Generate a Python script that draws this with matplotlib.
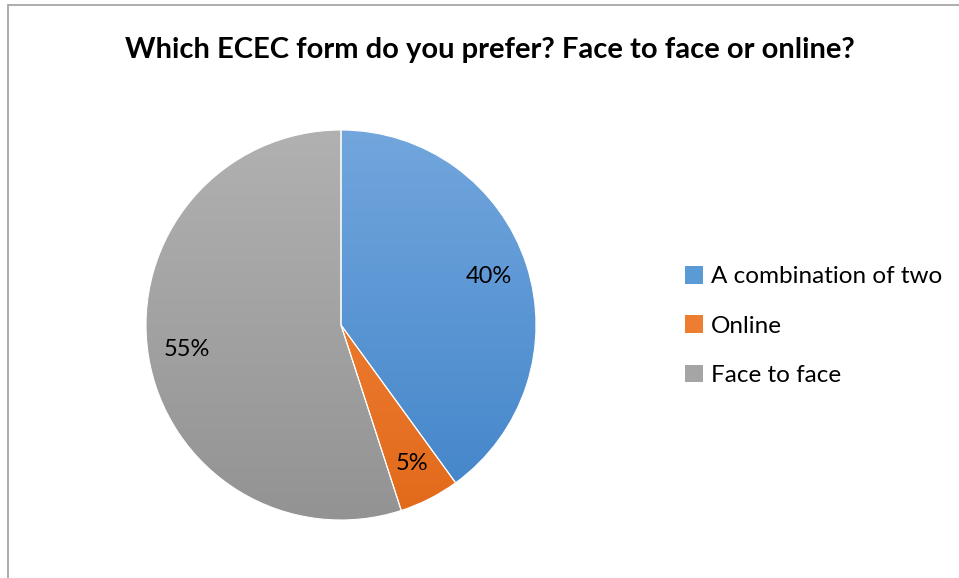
import numpy as np
import matplotlib
matplotlib.use("Agg")
import matplotlib.pyplot as plt
from matplotlib.colors import LinearSegmentedColormap
from matplotlib.patches import Patch, Rectangle

plt.rcParams['font.family'] = ['Lato', 'DejaVu Sans']

TITLE = "Which ECEC form do you prefer? Face to face or online?"
labels = ["A combination of two", "Online", "Face to face"]
shares = [40, 5, 55]
# top / bottom shade of each slice
top_colors = ["#72a6dd", "#f48a42", "#b1b1b1"]
bottom_colors = ["#4184c9", "#e2691a", "#939393"]
mid_colors = ["#5b9bd5", "#ed7d31", "#a5a5a5"]

W, H = 959, 578
fig = plt.figure(figsize=(W / 100, H / 100), dpi=100)

# chart border (top and left edge visible)
fig.add_artist(Rectangle((8 / W, -0.1), 1.2, 1 - 5 / H + 0.1, transform=fig.transFigure,
                         facecolor='none', edgecolor='#a0a0a0', linewidth=1.2))

fig.text(490 / W, 1 - 50 / H, TITLE, ha='center', va='center',
         fontsize=21, fontweight='bold', color='black')

cx, cy, r = 341, 325, 195
ax = fig.add_axes([(cx - r) / W, (H - cy - r) / H, 2 * r / W, 2 * r / H])

wedges, texts, autotexts = ax.pie(
    shares, startangle=90, counterclock=False, radius=1,
    autopct=lambda p: f"{p:.0f}%", pctdistance=0.8,
    wedgeprops=dict(facecolor='none', edgecolor='white', linewidth=0.8),
    textprops=dict(fontsize=17, color='black'))

grad = np.linspace(0, 1, 256).reshape(-1, 1)
for w, c0, c1 in zip(wedges, top_colors, bottom_colors):
    cmap = LinearSegmentedColormap.from_list("g", [c0, c1])
    im = ax.imshow(grad, cmap=cmap, extent=[-1, 1, -1, 1], aspect='auto',
                   origin='upper', zorder=0.5)
    im.set_clip_path(w)
    w.set_zorder(1)
for t in autotexts:
    t.set_zorder(3)

ax.set_xlim(-1, 1)
ax.set_ylim(-1, 1)
ax.set_aspect('equal')
ax.axis('off')

handles = [Patch(facecolor=c, edgecolor='none') for c in mid_colors]
fig.legend(handles, labels, loc='center left',
           bbox_to_anchor=(673 / W, 1 - 326 / H), frameon=False,
           fontsize=17.5, handlelength=0.75, handleheight=0.75,
           handletextpad=0.3, labelspacing=1.15, borderpad=0)

fig.savefig("out.png", dpi=100, facecolor='white')
